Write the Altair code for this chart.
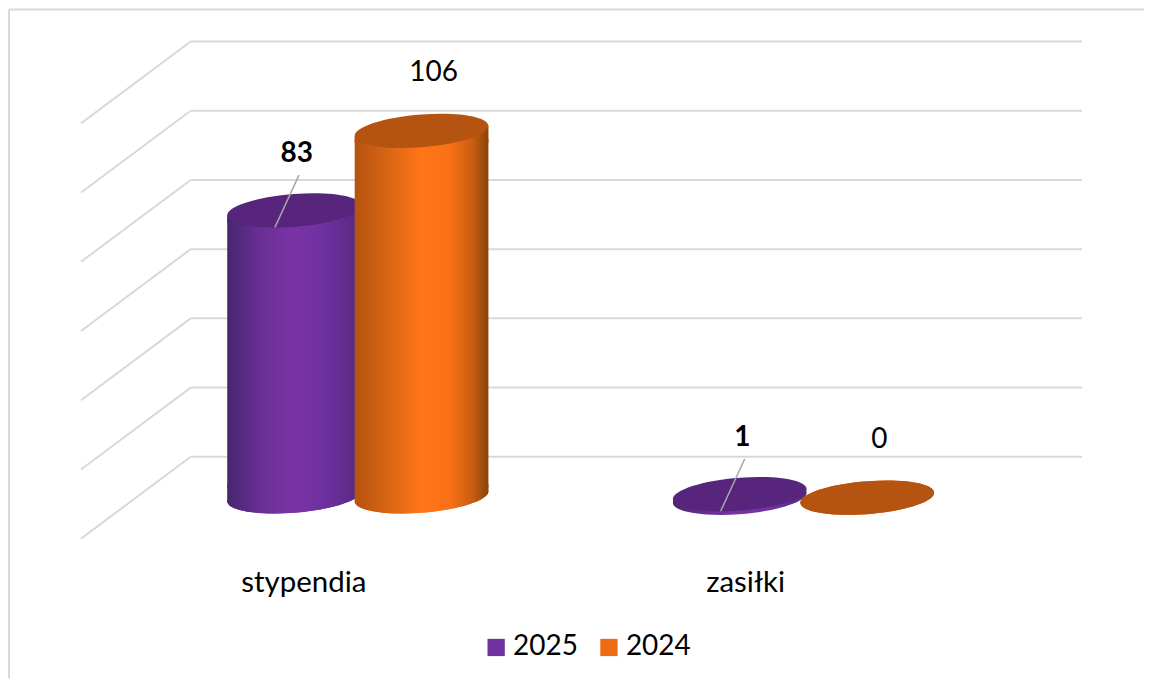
import math
import altair as alt
import pandas as pd

# ---- values ----
categories = ["stypendia", "zasiłki"]
series = ["2025", "2024"]
values_2025 = [83, 1]
values_2024 = [106, 0]
grid_values = [0, 20, 40, 60, 80, 100, 120]

# ---- 3D look ----
W, H = 1137, 670
X_DOMAIN = [-0.4076, 2.1389]
Y_DOMAIN = [-40.38, 152.87]
DEPTH_X, DEPTH_Y = 0.246, 23.65
BAR_HALF = 0.150
OFFSET_2025, OFFSET_2024 = -0.145, 0.141
CATEGORY_STEP = 0.991
HALF_PX = 67.0
FONT = "Lato"
PURPLE, ORANGE = "#7030a0", "#ed6c13"
TOP_PURPLE, TOP_ORANGE = "#57267c", "#b45410"
GRID = "#d9d9d9"
PX = 3.467  # pixels per value unit


def grad(stops):
    return alt.LinearGradient(
        gradient="linear", x1=0, x2=1, y1=0, y2=0,
        stops=[alt.GradientStop(offset=o, color=c) for o, c in stops],
    )


G_PURPLE = grad([(0, "#47266d"), (0.25, "#6a2f96"), (0.5, "#7a33a6"), (0.72, "#6f30a0"), (1, "#552a80")])
G_ORANGE = grad([(0, "#b45310"), (0.25, "#d96614"), (0.5, "#ff7518"), (0.72, "#f97016"), (0.88, "#c75d12"), (1, "#8b4409")])

# tilted-ellipse outlines as symbol paths (units of HALF_PX)
A, B, TH = 67.2 / HALF_PX, 16.4 / HALF_PX, math.radians(4.55)


def pt(t):
    return (A * math.cos(t) * math.cos(TH) + B * math.sin(t) * math.sin(TH),
            -A * math.cos(t) * math.sin(TH) + B * math.sin(t) * math.cos(TH))


def dp(t):
    return (-A * math.sin(t) * math.cos(TH) + B * math.cos(t) * math.sin(TH),
            A * math.sin(t) * math.sin(TH) + B * math.cos(t) * math.cos(TH))


def arc(t0, n):
    k = 0.5523
    s = ""
    for i in range(n):
        a, b = t0 + i * math.pi / 2, t0 + (i + 1) * math.pi / 2
        p0, d0, p1, d1 = pt(a), dp(a), pt(b), dp(b)
        s += f"C{p0[0]+k*d0[0]:.4f},{p0[1]+k*d0[1]:.4f} {p1[0]-k*d1[0]:.4f},{p1[1]-k*d1[1]:.4f} {p1[0]:.4f},{p1[1]:.4f} "
    return s


T0 = math.atan2(B * math.sin(TH), A * math.cos(TH))
start = pt(T0)
end = pt(T0 + math.pi)
ELLIPSE = f"M{start[0]:.4f},{start[1]:.4f} " + arc(T0, 4) + "Z"
lift = 12 / HALF_PX
# lower part of the cylinder: lower half of the ellipse plus a short straight piece
CAP = (f"M{start[0]:.4f},{start[1]:.4f} " + arc(T0, 2)
       + f"L{end[0]:.4f},{-lift:.4f} L{start[0]:.4f},{-lift:.4f} Z")
# upper part of the cylinder: tilted chord of the ellipse plus a short straight piece
NECK = (f"M{end[0]:.4f},{end[1]:.4f} L{start[0]:.4f},{start[1]:.4f} "
        f"L{start[0]:.4f},{lift:.4f} L{end[0]:.4f},{lift:.4f} Z")
SYMBOL_SIZE = (2 * HALF_PX) ** 2

x_scale = alt.Scale(domain=X_DOMAIN, range=[0, W], nice=False, zero=False)
y_scale = alt.Scale(domain=Y_DOMAIN, range=[H, 0], nice=False, zero=False)
X = lambda f: alt.X(f, type="quantitative", scale=x_scale, axis=None)
Y = lambda f: alt.Y(f, type="quantitative", scale=y_scale, axis=None)
X2 = lambda f: alt.X2(f)
Y2 = lambda f: alt.Y2(f)

# ---- tables ----
slants = pd.DataFrame({"x": [-DEPTH_X] * len(grid_values), "x2": [0.0] * len(grid_values),
                       "y": grid_values, "y2": [v + DEPTH_Y for v in grid_values]})
walls = pd.DataFrame({"x": [0.0] * len(grid_values), "x2": [2.0] * len(grid_values),
                      "y": [v + DEPTH_Y for v in grid_values]})

MID_Y = DEPTH_Y / 2


def rows(vals, offset):
    return pd.DataFrame({
        "cat": categories,
        "value": vals,
        "cx": [i + 0.5 - DEPTH_X / 2 + offset for i in range(len(categories))],
        "base": [MID_Y + 0.4 if v > 5 else MID_Y for v in vals],
        "top": [v + MID_Y for v in vals],
    }).assign(left=lambda d: d.cx - BAR_HALF, right=lambda d: d.cx + BAR_HALF,
              low=lambda d: d.base + 8 / PX, high=lambda d: d.top - 8 / PX)


r25 = rows(values_2025, OFFSET_2025)
r24 = rows(values_2024, OFFSET_2024)


def cylinder(df, gradient, top_color):
    tall = df[df.value > 5]
    body = alt.Chart(tall).mark_rect(fill=gradient, strokeWidth=0).encode(
        x=X("left"), x2=X2("right"), y=Y("high"), y2=Y2("low"))
    cap = alt.Chart(tall).mark_point(filled=True, fill=gradient, shape=CAP, size=SYMBOL_SIZE,
                                     opacity=1, strokeWidth=0).encode(x=X("cx"), y=Y("base"))
    neck = alt.Chart(tall).mark_point(filled=True, fill=gradient, shape=NECK, size=SYMBOL_SIZE,
                                      opacity=1, strokeWidth=0).encode(x=X("cx"), y=Y("top"))
    rim = alt.Chart(df).mark_point(filled=True, fill=gradient, shape=ELLIPSE, size=SYMBOL_SIZE,
                                   opacity=1, strokeWidth=0).encode(x=X("cx"), y=Y("base"))
    top = alt.Chart(df).mark_point(filled=True, fill=top_color, shape=ELLIPSE, size=SYMBOL_SIZE,
                                   opacity=1, strokeWidth=0).encode(x=X("cx"), y=Y("top"))
    return [rim, cap, body, neck, top]


grid_a = alt.Chart(slants).mark_rule(color=GRID, strokeWidth=2).encode(
    x=X("x"), x2=X2("x2"), y=Y("y"), y2=Y2("y2"))
grid_b = alt.Chart(walls).mark_rule(color=GRID, strokeWidth=2).encode(
    x=X("x"), x2=X2("x2"), y=Y("y"))

# frame edges of the picture
frame_l = alt.Chart(pd.DataFrame({"a": [0]})).mark_rule(color=GRID, strokeWidth=2).encode(
    x=alt.value(0), y=alt.value(0), y2=alt.value(H))
frame_t = alt.Chart(pd.DataFrame({"a": [0]})).mark_rule(color=GRID, strokeWidth=2).encode(
    x=alt.value(0), x2=alt.value(W), y=alt.value(0))

# leader lines from the bold labels
lead = r25.assign(
    x=lambda d: d.cx + 0.011, x2=lambda d: d.cx - 0.043,
    y=lambda d: d.top + 10.2, y2=lambda d: d.top - 4.9)
leaders = alt.Chart(lead).mark_rule(color="#a6a6a6", strokeWidth=1.5).encode(
    x=X("x"), x2=X2("x2"), y=Y("y"), y2=Y2("y2"))

# value labels
lab25 = r25.assign(lx=lambda d: d.cx + 0.006, ly=lambda d: d.top + 16.3)
lab24 = r24.assign(lx=lambda d: d.cx + 0.027, ly=lambda d: d.top + 16.6)
text25 = alt.Chart(lab25).mark_text(font=FONT, fontSize=28, fontWeight="bold", color="#000000").encode(
    x=X("lx"), y=Y("ly"), text="value:Q")
text24 = alt.Chart(lab24).mark_text(font=FONT, fontSize=28, color="#000000").encode(
    x=X("lx"), y=Y("ly"), text="value:Q")

# category labels at the front edge of the floor
cats = pd.DataFrame({"cat": categories,
                     "x": [i * CATEGORY_STEP + 0.5 - DEPTH_X for i in range(len(categories))],
                     "y": [-12.7] * len(categories)})
cat_text = alt.Chart(cats).mark_text(font=FONT, fontSize=29.5, color="#000000").encode(
    x=X("x"), y=Y("y"), text="cat:N")

# legend carrier (nothing visible is drawn by it)
legend_df = pd.DataFrame({"series": series, "x": [0.0, 0.0], "y": [0.0, 0.0]})
legend_layer = alt.Chart(legend_df).mark_square(size=0, opacity=1).encode(
    x=X("x"), y=Y("y"),
    color=alt.Color("series:N", scale=alt.Scale(domain=series, range=[PURPLE, ORANGE]),
                    legend=alt.Legend(title=None, orient="none", legendX=474, legendY=625,
                                      direction="horizontal", columns=2, symbolType="square",
                                      symbolSize=300, symbolOpacity=1, symbolStrokeWidth=0,
                                      labelFont=FONT, labelFontSize=28, labelColor="#000000",
                                      labelOffset=3, columnPadding=17)),
)

layers = [frame_l, frame_t, grid_a, grid_b, legend_layer]
layers += cylinder(r25, G_PURPLE, TOP_PURPLE)
layers += cylinder(r24, G_ORANGE, TOP_ORANGE)
layers += [leaders, text25, text24, cat_text]

chart = alt.layer(*layers).properties(
    width=W, height=H, padding=0, background="#ffffff"
).configure_view(stroke=None)

chart.save("out.html", embed_options={"renderer": "svg", "actions": False})
